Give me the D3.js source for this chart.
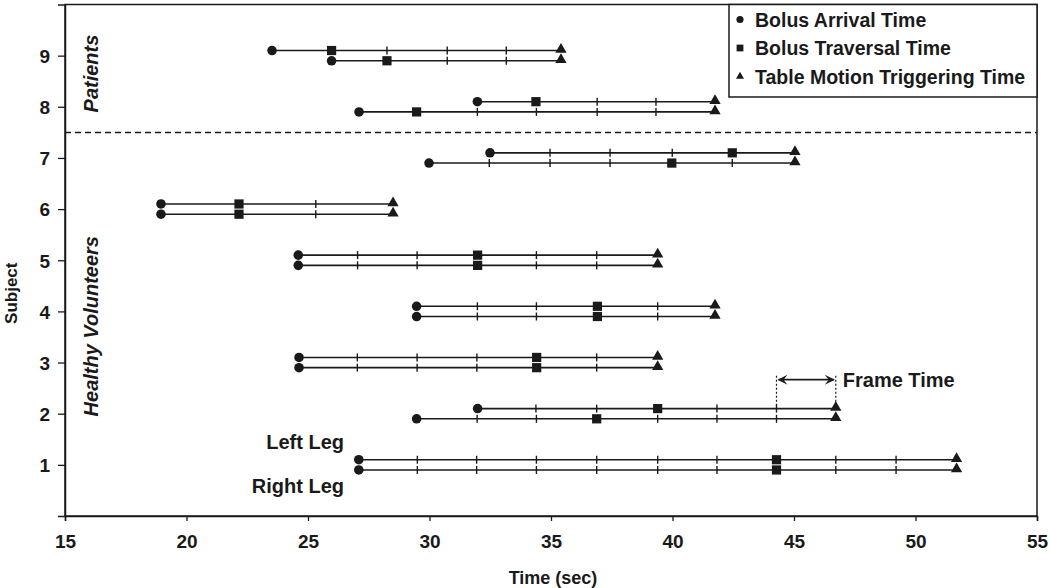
<!DOCTYPE html>
<html>
<head>
<meta charset="utf-8">
<script src="https://cdn.jsdelivr.net/npm/d3@7/dist/d3.min.js"></script>
<style>
  html, body { margin: 0; padding: 0; background: #fff; }
  svg { display: block; font-family: "Liberation Sans", Arial, sans-serif; }
</style>
</head>
<body>
<svg id="chart" width="1050" height="588"></svg>
<script>
// ---- Data ----
const subjects = [1, 2, 3, 4, 5, 6, 7, 8, 9];
const xTicks = [15, 20, 25, 30, 35, 40, 45, 50, 55];
const yTicks = [1, 2, 3, 4, 5, 6, 7, 8, 9];

// Left leg (upper line of each subject)
const leftArrival   = [27.09, 31.98, 24.63, 29.47, 24.60, 18.95, 32.49, 31.97, 23.52];
const leftTraversal = [44.28, 39.39, 34.41, 36.91, 31.98, 22.16, 42.46, 34.38, 25.97];
const leftTrigger   = [51.69, 46.72, 39.39, 41.75, 39.39, 28.50, 45.04, 41.75, 35.41];
const leftFrames = [
  [29.50, 31.94, 34.40, 36.88, 39.39, 41.83, 46.72, 49.20],
  [34.38, 36.88, 41.83, 44.28],
  [27.03, 29.49, 31.95, 36.88],
  [31.97, 34.40, 39.39],
  [27.04, 29.49, 34.40, 36.88],
  [25.32],
  [34.96, 37.43, 39.99],
  [36.90, 39.32],
  [28.25, 30.73, 33.16]
];

// Right leg (lower line of each subject)
const rightArrival   = [27.09, 29.47, 24.63, 29.47, 24.60, 18.95, 29.98, 27.10, 25.97];
const rightTraversal = [44.28, 36.88, 34.41, 36.91, 31.98, 22.16, 39.97, 29.47, 28.25];
const rightTrigger   = [51.69, 46.72, 39.39, 41.75, 39.39, 28.50, 45.04, 41.75, 35.41];
const rightFrames = [
  [29.50, 31.94, 34.40, 36.88, 39.39, 41.83, 46.72, 49.20],
  [31.96, 34.40, 39.39, 41.83, 44.28],
  [27.03, 29.49, 31.95, 36.88],
  [31.97, 34.40, 39.39],
  [27.04, 29.49, 34.40, 36.88],
  [25.32],
  [32.46, 34.96, 37.43, 42.46],
  [31.97, 34.40, 36.90, 39.32],
  [30.73, 33.16]
];

const legendLabels = ["Bolus Arrival Time", "Bolus Traversal Time", "Table Motion Triggering Time"];
const groupSplit = 7.5;
const frameTimeStart = 44.28, frameTimeEnd = 46.72, frameTimeSubject = 2;

// ---- Layout ----
const W = 1050, H = 588;
const margin = { left: 65, right: 13, top: 4.5, bottom: 72 };
const svg = d3.select("#chart");
const x = d3.scaleLinear().domain([15, 55]).range([margin.left, W - margin.right]);
const y = d3.scaleLinear().domain([0, 10]).range([H - margin.bottom, margin.top]);
const ink = "#1a1a1a";
const legOffset = 0.1;
const FONT = "'Liberation Sans', Arial, sans-serif";

// Plot frame
svg.append("rect")
  .attr("x", x(15)).attr("y", y(10))
  .attr("width", x(55) - x(15)).attr("height", y(0) - y(10))
  .attr("fill", "none").attr("stroke", ink).attr("stroke-width", 1.5);

// Axes
const xAxis = svg.append("g")
  .attr("transform", `translate(0,${y(0)})`)
  .call(d3.axisBottom(x).tickValues(xTicks).tickSize(5).tickPadding(14).tickFormat(d3.format("d")));
const yAxis = svg.append("g")
  .attr("transform", `translate(${x(15)},0)`)
  .call(d3.axisLeft(y).tickValues(yTicks).tickSize(7).tickPadding(8).tickFormat(d3.format("d")));
[xAxis, yAxis].forEach(g => {
  g.select(".domain").attr("stroke", ink).attr("stroke-width", 1.5);
  g.selectAll(".tick line").attr("stroke", ink).attr("stroke-width", 1.3);
  g.selectAll(".tick text").attr("fill", ink)
    .style("font-family", FONT)
    .style("font-weight", "bold").style("font-size", "19px");
});
yAxis.selectAll(".tick text").attr("dy", "0.36em");

// Axis titles
svg.append("text")
  .attr("x", (x(15) + x(55)) / 2 + 2).attr("y", 584)
  .attr("text-anchor", "middle").attr("fill", ink)
  .style("font-weight", "bold").style("font-size", "18px")
  .text("Time (sec)");
svg.append("text")
  .attr("transform", `translate(17,${y(5) + 33}) rotate(-90)`)
  .attr("text-anchor", "middle").attr("fill", ink)
  .style("font-weight", "bold").style("font-size", "17px")
  .text("Subject");

// Group separator
svg.append("line")
  .attr("x1", x(15)).attr("x2", x(55))
  .attr("y1", y(groupSplit)).attr("y2", y(groupSplit))
  .attr("stroke", ink).attr("stroke-width", 1.5).attr("stroke-dasharray", "6,4");

// Group labels
svg.append("text")
  .attr("transform", `translate(98,${y(8.65)}) rotate(-90)`)
  .attr("text-anchor", "middle").attr("fill", ink)
  .style("font-weight", "bold").style("font-style", "italic").style("font-size", "20px")
  .text("Patients");
svg.append("text")
  .attr("transform", `translate(98,${y(3.71)}) rotate(-90)`)
  .attr("text-anchor", "middle").attr("fill", ink)
  .style("font-weight", "bold").style("font-style", "italic").style("font-size", "20px")
  .text("Healthy Volunteers");

// Build leg records
const legs = [];
subjects.forEach((s, i) => {
  legs.push({ yv: s + legOffset, arrival: leftArrival[i], traversal: leftTraversal[i], trigger: leftTrigger[i], frames: leftFrames[i] });
  legs.push({ yv: s - legOffset, arrival: rightArrival[i], traversal: rightTraversal[i], trigger: rightTrigger[i], frames: rightFrames[i] });
});

const marks = svg.append("g");
const symCircle = d3.symbol().type(d3.symbolCircle).size(72);
const symSquare = d3.symbol().type(d3.symbolSquare).size(85);
const symTriangle = d3.symbol().type(d3.symbolTriangle).size(55);

legs.forEach(l => {
  const yy = y(l.yv);
  marks.append("line")
    .attr("x1", x(l.arrival)).attr("x2", x(l.trigger))
    .attr("y1", yy).attr("y2", yy)
    .attr("stroke", ink).attr("stroke-width", 1.6);
  l.frames.forEach(f => {
    marks.append("line")
      .attr("x1", x(f)).attr("x2", x(f))
      .attr("y1", yy - 4).attr("y2", yy + 4)
      .attr("stroke", ink).attr("stroke-width", 1.4);
  });
  marks.append("path").attr("d", symCircle).attr("fill", ink)
    .attr("transform", `translate(${x(l.arrival)},${yy})`);
  marks.append("path").attr("d", symSquare).attr("fill", ink)
    .attr("transform", `translate(${x(l.traversal)},${yy})`);
  marks.append("path").attr("d", symTriangle).attr("fill", ink)
    .attr("transform", `translate(${x(l.trigger)},${yy - 1})`);
});

// Left / Right leg labels
svg.append("text")
  .attr("x", 344).attr("y", y(1 + legOffset) - 11)
  .attr("text-anchor", "end").attr("fill", ink)
  .style("font-weight", "bold").style("font-size", "20px")
  .text("Left Leg");
svg.append("text")
  .attr("x", 344).attr("y", y(1 - legOffset) + 23)
  .attr("text-anchor", "end").attr("fill", ink)
  .style("font-weight", "bold").style("font-size", "20px")
  .text("Right Leg");

// Frame Time annotation
const ftTop = y(frameTimeSubject) - 38;
const ftBot = y(frameTimeSubject + legOffset);
[frameTimeStart, frameTimeEnd].forEach(v => {
  svg.append("line")
    .attr("x1", x(v)).attr("x2", x(v))
    .attr("y1", ftTop).attr("y2", ftBot)
    .attr("stroke", ink).attr("stroke-width", 1.2).attr("stroke-dasharray", "2,2");
});
const ay = ftTop + 4;
svg.append("line")
  .attr("x1", x(frameTimeStart) + 2).attr("x2", x(frameTimeEnd) - 2)
  .attr("y1", ay).attr("y2", ay)
  .attr("stroke", ink).attr("stroke-width", 1.8);
const ah = 10, aw = 5;
svg.append("path")
  .attr("d", `M${x(frameTimeStart) + 1},${ay} L${x(frameTimeStart) + 1 + ah},${ay - aw} L${x(frameTimeStart) + 1 + ah * 0.6},${ay} L${x(frameTimeStart) + 1 + ah},${ay + aw} Z`)
  .attr("fill", ink);
svg.append("path")
  .attr("d", `M${x(frameTimeEnd) - 1},${ay} L${x(frameTimeEnd) - 1 - ah},${ay - aw} L${x(frameTimeEnd) - 1 - ah * 0.6},${ay} L${x(frameTimeEnd) - 1 - ah},${ay + aw} Z`)
  .attr("fill", ink);
svg.append("text")
  .attr("x", x(frameTimeEnd) + 7).attr("y", ay + 7)
  .attr("fill", ink)
  .style("font-weight", "bold").style("font-size", "20px")
  .text("Frame Time");

// Legend
const lgX = 729, lgY = y(10), lgW = x(55) - 729, lgH = 97 - y(10);
svg.append("rect")
  .attr("x", lgX).attr("y", lgY).attr("width", lgW).attr("height", lgH)
  .attr("fill", "#fff").attr("stroke", ink).attr("stroke-width", 1.5);
const legendSyms = [
  d3.symbol().type(d3.symbolCircle).size(40),
  d3.symbol().type(d3.symbolSquare).size(46),
  d3.symbol().type(d3.symbolTriangle).size(28)
];
legendLabels.forEach((lab, i) => {
  const cy = 19.5 + i * 28.5;
  svg.append("path").attr("d", legendSyms[i]).attr("fill", ink)
    .attr("transform", `translate(740,${cy})`);
  svg.append("text")
    .attr("x", 755).attr("y", cy + 7)
    .attr("fill", ink)
    .style("font-weight", "bold").style("font-size", "19.5px")
    .text(lab);
});
</script>
</body>
</html>
